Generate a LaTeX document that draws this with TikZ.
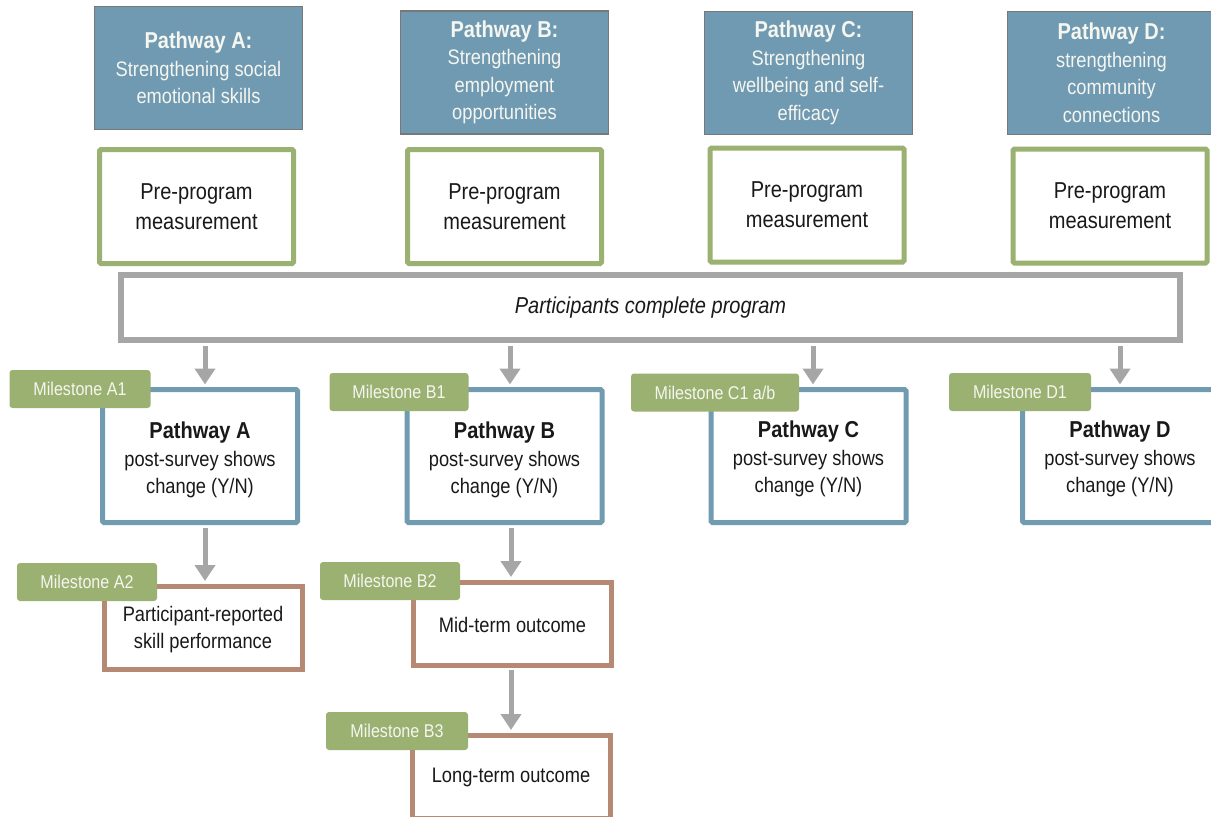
\documentclass[tikz,border=0pt]{standalone}
\usepackage{fontspec}
\setmainfont[FakeStretch=0.87]{Liberation Sans}
\usetikzlibrary{arrows.meta,calc}

\definecolor{hdrblue}{RGB}{112,154,178}
\definecolor{hdredge}{RGB}{120,120,120}
\definecolor{outblue}{RGB}{112,155,177}
\definecolor{preGreen}{RGB}{155,177,114}
\definecolor{msGreen}{RGB}{155,177,114}
\definecolor{outBrown}{RGB}{181,137,115}
\definecolor{flowGray}{RGB}{166,166,166}
\definecolor{ink}{RGB}{25,25,25}
\definecolor{paleText}{RGB}{245,246,240}

\begin{document}
\begin{tikzpicture}[x=1pt,y=-1pt,
  hdrbox/.style={draw=hdredge, line width=1.2pt, fill=hdrblue, text=paleText,
    minimum width=208pt, minimum height=123pt, inner sep=0pt, align=center,
    font=\fontsize{21}{27.5}\selectfont},
  prebox/.style={draw=preGreen, line width=5pt, fill=white, rounded corners=1.5pt,
    minimum width=194pt, minimum height=114pt, inner sep=0pt, align=center, text=ink,
    font=\fontsize{23}{30}\selectfont},
  barbox/.style={draw=flowGray, line width=6pt, fill=white,
    minimum width=1059pt, minimum height=65pt, inner sep=0pt, text=ink,
    font=\fontsize{23}{26}\selectfont\itshape},
  pathbox/.style={draw=outblue, line width=5pt, fill=white, rounded corners=1.5pt,
    minimum width=195pt, minimum height=133pt, inner sep=0pt},
  pathtext/.style={inner sep=0pt, align=center, text=ink,
    font=\fontsize{21}{27.5}\selectfont},
  outbox/.style={draw=outBrown, line width=5pt, fill=white,
    minimum width=198pt, minimum height=83pt, inner sep=0pt},
  outtext/.style={inner sep=0pt, align=center, text=ink,
    font=\fontsize{21}{27}\selectfont},
  msbox/.style={fill=msGreen, rounded corners=3pt, minimum height=38pt,
    inner sep=0pt, text=paleText, font=\fontsize{18.5}{20}\selectfont},
  flow/.style={draw=flowGray, line width=5pt,
    -{Triangle[length=16pt,width=20pt]}}
]
\useasboundingbox (0,0) rectangle (1211,817);

% pathway headings
\node[hdrbox] (hA) at (198.5,68)
  {{\bfseries\fontsize{23}{28}\selectfont Pathway A:}\\Strengthening social\\emotional skills};
\node[hdrbox] (hB) at (504.5,72.5)
  {{\bfseries\fontsize{23}{28}\selectfont Pathway B:}\\Strengthening\\employment\\opportunities};
\node[hdrbox] (hC) at (808.5,73)
  {{\bfseries\fontsize{23}{28}\selectfont Pathway C:}\\Strengthening\\wellbeing and self-\\efficacy};
\node[hdrbox] (hD) at (1111.5,73)
  {{\bfseries\fontsize{23}{28}\selectfont Pathway D:}\\strengthening\\community\\connections};

% pre-program measurement
\node[prebox] (mA) at (196.5,206.5) {Pre-program\\measurement};
\node[prebox] (mB) at (504.5,206.5) {Pre-program\\measurement};
\node[prebox] (mC) at (807,205) {Pre-program\\measurement};
\node[prebox] (mD) at (1110,206) {Pre-program\\measurement};

% programme bar
\node[barbox] (bar) at (650.5,307.5) {Participants complete program};

% post-survey boxes and their texts
\node[pathbox] (pA) at (200,456) {};
\node[pathbox] (pB) at (504.5,456) {};
\node[pathbox] (pC) at (808.5,456) {};
\node[pathbox] (pD) at (1120,456) {};
\node[pathtext] (tA) at ($(pA.center)+(0,4)$)
  {{\bfseries\fontsize{23}{28}\selectfont Pathway A}\\post-survey shows\\change (Y/N)};
\node[pathtext] (tB) at ($(pB.center)+(0,4)$)
  {{\bfseries\fontsize{23}{28}\selectfont Pathway B}\\post-survey shows\\change (Y/N)};
\node[pathtext] (tC) at ($(pC.center)+(0,3)$)
  {{\bfseries\fontsize{23}{28}\selectfont Pathway C}\\post-survey shows\\change (Y/N)};
\node[pathtext] (tD) at ($(pD.center)+(0,3)$)
  {{\bfseries\fontsize{23}{28}\selectfont Pathway D}\\post-survey shows\\change (Y/N)};

% outcome boxes and their texts
\node[outbox] (oA2) at (203,627.5) {};
\node[outbox] (oB2) at (512.5,623.5) {};
\node[outbox] (oB3) at (511,776.5) {};
\node[outtext] (uA2) at ($(oA2.center)+(0,2)$) {Participant-reported\\skill performance};
\node[outtext] (uB2) at ($(oB2.center)+(0,1)$) {Mid-term outcome};
\node[outtext] (uB3) at ($(oB3.center)+(0,1)$) {Long-term outcome};

% milestone tags
\node[msbox, minimum width=141pt] (sA1) at (80,389) {Milestone A1};
\node[msbox, minimum width=139pt] (sB1) at (399,392) {Milestone B1};
\node[msbox, minimum width=168pt] (sC1) at (715,392.5) {Milestone C1 a/b};
\node[msbox, minimum width=142pt] (sD1) at (1020,392) {Milestone D1};
\node[msbox, minimum width=140pt] (sA2) at (87,582) {Milestone A2};
\node[msbox, minimum width=140pt] (sB2) at (390,581) {Milestone B2};
\node[msbox, minimum width=142pt] (sB3) at (397,731) {Milestone B3};

% arrow columns
\coordinate (xA) at (205,0);
\coordinate (xB) at (510,0);
\coordinate (xC) at (813,0);
\coordinate (xD) at (1120,0);
\coordinate (xB2) at (511,0);

\draw[flow] ($(bar.south -| xA)+(0,3)$) -- ($(pA.north -| xA)+(0,-2.5)$);
\draw[flow] ($(bar.south -| xB)+(0,3)$) -- ($(pB.north -| xB)+(0,-2.5)$);
\draw[flow] ($(bar.south -| xC)+(0,3)$) -- ($(pC.north -| xC)+(0,-2.5)$);
\draw[flow] ($(bar.south -| xD)+(0,3)$) -- ($(pD.north -| xD)+(0,-2.5)$);
\draw[flow] ($(pA.south -| xA)+(0,2.5)$) -- ($(oA2.north -| xA)+(0,-2.5)$);
\draw[flow] ($(pB.south -| xB2)+(0,2.5)$) -- ($(oB2.north -| xB2)+(0,-2.5)$);
\draw[flow] ($(oB2.south -| xB2)+(0,2.5)$) -- ($(oB3.north -| xB2)+(0,-2.5)$);
\end{tikzpicture}
\end{document}
